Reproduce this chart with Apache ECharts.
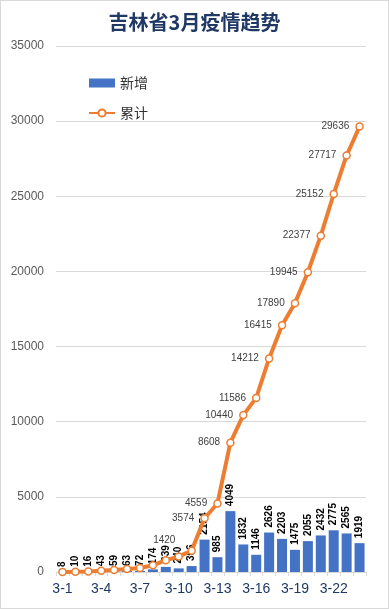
<!DOCTYPE html>
<html><head><meta charset="utf-8">
<script src="https://cdn.jsdelivr.net/npm/echarts@6/dist/echarts.min.js"></script>
<style>html,body{margin:0;padding:0;background:#fff}#c{width:387px;height:607px;border:1px solid #d9d9d9}</style>
</head><body><div id="c"></div>
<script>
const categories = ['3-1','3-2','3-3','3-4','3-5','3-6','3-7','3-8','3-9','3-10','3-11','3-12','3-13','3-14','3-15','3-16','3-17','3-18','3-19','3-20','3-21','3-22','3-23','3-24'];
const newCases = [8,10,16,43,59,63,72,174,339,240,396,2154,985,4049,1832,1146,2626,2203,1475,2055,2432,2775,2565,1919];
const totalCases = [8,18,34,77,136,199,271,445,784,1024,1420,3574,4559,8608,10440,11586,14212,16415,17890,19945,22377,25152,27717,29636];
const firstTotalLabel = 10;

const chart = echarts.init(document.getElementById('c'));
chart.setOption({
  animation:false,
  title:{text:'吉林省3月疫情趋势',left:'center',top:6,textStyle:{fontFamily:'Noto Sans CJK SC',fontWeight:'bold',fontSize:20,color:'#1f3864'}},
  legend:{orient:'vertical',left:82,top:70,itemWidth:26,itemHeight:9,itemGap:16,
    textStyle:{fontFamily:'Noto Sans CJK SC',fontSize:14,color:'#333'},
    data:[{name:'新增',icon:'rect'},{name:'累计'}]},
  grid:{left:55,right:22,top:45,bottom:36},
  xAxis:{type:'category',data:categories,
    axisLine:{lineStyle:{color:'#d9d9d9'}},
    axisTick:{show:true,interval:0,length:4,lineStyle:{color:'#d9d9d9'}},
    axisLabel:{interval:2,color:'#1f3864',fontSize:14,fontFamily:'Liberation Sans',margin:10}},
  yAxis:{type:'value',min:0,max:35000,interval:5000,
    axisLabel:{color:'#595959',fontSize:12,fontFamily:'Liberation Sans',margin:12,formatter:v=>String(v)},
    splitLine:{lineStyle:{color:'#d9d9d9'}}},
  series:[
    {name:'新增',type:'bar',data:newCases,barWidth:10,itemStyle:{color:'#4472c4'},
     label:{show:true,position:'top',rotate:90,align:'left',verticalAlign:'middle',distance:5,
       fontSize:10,fontWeight:'bold',color:'#000',fontFamily:'Liberation Sans'}},
    {name:'累计',type:'line',data:totalCases.map((v,i)=>{
        const o={value:v};
        if(i<firstTotalLabel){o.label={show:false};}
        if(i===firstTotalLabel){o.label={show:true,position:'left',offset:[-6,-10]};o.labelLine={show:true};}
        return o;}),
     symbol:'circle',symbolSize:7,showAllSymbol:true,
     lineStyle:{color:'#ed7d31',width:4},
     itemStyle:{color:'#fff',borderColor:'#ed7d31',borderWidth:1.5},
     label:{show:true,position:'left',distance:6,fontSize:10,color:'#404040',fontFamily:'Liberation Sans'},
     z:3}
  ]
});
</script></body></html>
